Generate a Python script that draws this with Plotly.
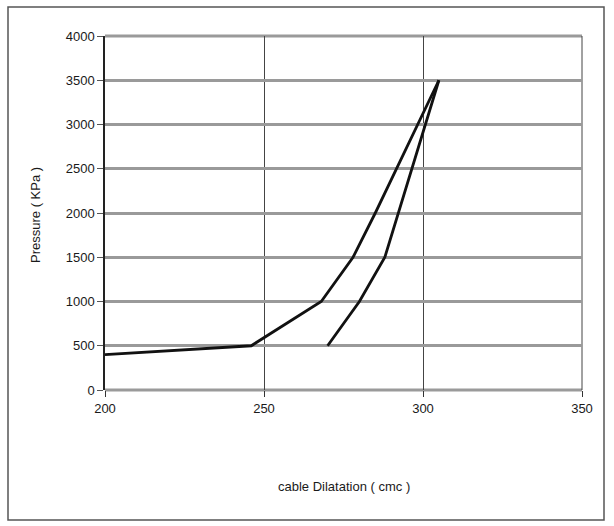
import plotly.graph_objects as go

# Loading branch (pressure rising) and unloading branch of the cable test
load_dilatation = [200, 246, 268, 278, 285, 305]
load_pressure = [400, 500, 1000, 1500, 2000, 3500]

unload_dilatation = [270, 280, 288, 305]
unload_pressure = [500, 1000, 1500, 3500]

x_ticks = [200, 250, 300, 350]
y_ticks = [0, 500, 1000, 1500, 2000, 2500, 3000, 3500, 4000]

W, H = 614, 526
L, R, T, B = 105, 32, 36, 136
pw, ph = W - L - R, H - T - B

font = dict(family="Liberation Sans, Arial, sans-serif", size=13, color="#1a1a1a")
hgrid = dict(color="#9a9a9a", width=3)
vgrid = dict(color="#444444", width=1)

fig = go.Figure()
fig.add_trace(go.Scatter(x=load_dilatation, y=load_pressure, mode="lines",
                         line=dict(color="#111111", width=2.8), showlegend=False))
fig.add_trace(go.Scatter(x=unload_dilatation, y=unload_pressure, mode="lines",
                         line=dict(color="#111111", width=2.8), showlegend=False))

fig.update_xaxes(range=[200, 350], tickvals=x_ticks, ticks="outside", ticklen=6,
                 tickcolor="#333333", showgrid=True, gridcolor=vgrid["color"],
                 gridwidth=1, zeroline=False, showline=False, tickfont=font,
                 fixedrange=True)
fig.update_yaxes(range=[0, 4000], tickvals=y_ticks, ticks="outside", ticklen=6,
                 tickcolor="#555555", showgrid=True, gridcolor=hgrid["color"],
                 gridwidth=3, zeroline=False, showline=True, linecolor="#222222",
                 linewidth=1.5, tickfont=font, fixedrange=True)

# Edge grid lines at the ends of both ranges (paper refs so they are not clipped)
for yp in (0, 1):
    fig.add_shape(type="line", xref="paper", yref="paper", x0=0, x1=1, y0=yp, y1=yp,
                  line=hgrid, layer="below")
fig.add_shape(type="line", xref="paper", yref="paper", x0=1, x1=1,
              y0=0, y1=1, line=vgrid, layer="below")

# Outer frame around the whole chart
fig.add_shape(type="rect", xref="paper", yref="paper",
              x0=(8 - L) / pw, x1=(604 - L) / pw,
              y0=(T + ph - 520) / ph, y1=(T + ph - 7) / ph,
              line=dict(color="#555555", width=1.5), layer="below")

fig.add_annotation(text="cable Dilatation ( cmc )", xref="paper", yref="paper",
                   x=0.5, y=(T + ph - 487) / ph, showarrow=False, font=font,
                   xanchor="center", yanchor="middle")
fig.add_annotation(text="Pressure ( KPa )", xref="paper", yref="paper",
                   x=(35 - L) / pw, y=(T + ph - 215) / ph, showarrow=False, font=font,
                   textangle=-90, xanchor="center", yanchor="middle")

fig.update_layout(width=W, height=H, margin=dict(l=L, r=R, t=T, b=B),
                  plot_bgcolor="white", paper_bgcolor="white")

fig.write_html("out.html")
